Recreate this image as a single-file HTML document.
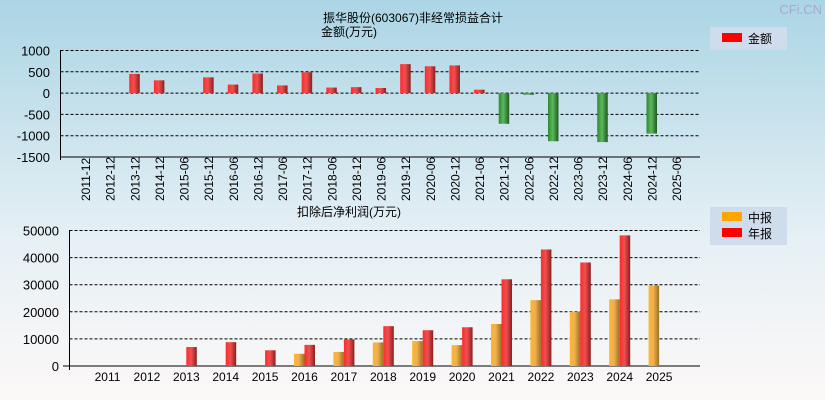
<!DOCTYPE html>
<html><head><meta charset="utf-8"><style>
body{margin:0;width:825px;height:400px;overflow:hidden;font-family:"Liberation Sans","Noto Sans CJK SC",sans-serif;}
svg{display:block}
</style></head><body>
<svg id="c" width="825" height="400" xmlns="http://www.w3.org/2000/svg" font-family="Liberation Sans, Noto Sans CJK SC, sans-serif">
<defs>
<linearGradient id="bg" x1="0" y1="0" x2="0" y2="1"><stop offset="0" stop-color="#abd5e5"/><stop offset="0.6" stop-color="#e6f0f5"/><stop offset="1" stop-color="#fcf8f8"/></linearGradient>
<linearGradient id="red" x1="0" y1="0" x2="1" y2="0"><stop offset="0" stop-color="#ff2a2a"/><stop offset="0.45" stop-color="#f05050"/><stop offset="1" stop-color="#8a2020"/></linearGradient>
<linearGradient id="grn" x1="0" y1="0" x2="1" y2="0"><stop offset="0" stop-color="#2e8a2e"/><stop offset="0.45" stop-color="#5cb85c"/><stop offset="1" stop-color="#1f5a1f"/></linearGradient>
<linearGradient id="org" x1="0" y1="0" x2="1" y2="0"><stop offset="0" stop-color="#ffb52e"/><stop offset="0.45" stop-color="#f0b050"/><stop offset="1" stop-color="#9a7020"/></linearGradient>
</defs>
<rect width="825" height="400" fill="url(#bg)"/>
<text x="822" y="14" text-anchor="end" font-size="13" fill="#aac">CFi.CN</text>
<text x="323" y="22" font-size="12">振华股份(603067)非经常损益合计</text>
<text x="321" y="36" font-size="12">金额(万元)</text>
<text x="297" y="216" font-size="12">扣除后净利润(万元)</text>
<g id="top"></g><g id="bot"></g>
<g>
<rect x="710" y="27" width="77" height="23" fill="#cfdcec"/>
<rect x="722" y="33" width="20" height="9" fill="#ff0000"/>
<text x="748" y="43" font-size="12">金额</text></g>
<g>
<rect x="710" y="207" width="77" height="38" fill="#cfdcec"/>
<rect x="722" y="212" width="20" height="9" fill="#ffa500"/>
<text x="748" y="222" font-size="12">中报</text>
<rect x="722" y="228" width="20" height="9" fill="#ff0000"/>
<text x="748" y="238" font-size="12">年报</text></g>
</svg>
<script>
const topCats=["2011-12","2012-12","2013-12","2014-12","2015-06","2015-12","2016-06","2016-12","2017-06","2017-12","2018-06","2018-12","2019-06","2019-12","2020-06","2020-12","2021-06","2021-12","2022-06","2022-12","2023-06","2023-12","2024-06","2024-12","2025-06"];
const topVals=[0,0,450,300,0,370,200,460,180,490,130,140,120,680,630,650,80,-720,-40,-1130,0,-1150,0,-950,0];
const topTicks=[1000,500,0,-500,-1000,-1500];
const botCats=["2011","2012","2013","2014","2015","2016","2017","2018","2019","2020","2021","2022","2023","2024","2025"];
const halfVals=[0,0,0,0,0,4500,5200,8700,9200,7700,15500,24300,20000,24600,29700];
const annualVals=[0,0,7000,8800,5800,7800,9800,14700,13200,14300,32000,43000,38200,48200,0];
const botTicks=[50000,40000,30000,20000,10000,0];
const NS="http://www.w3.org/2000/svg";
function mk(p,t,a){const e=document.createElementNS(NS,t);for(const k in a)e.setAttribute(k,a[k]);p.appendChild(e);return e;}
// top
const T=document.getElementById('top');
const ty=v=>50.5+(1000-v)*(106.5/2500);
const tx=i=>85+i*24.63;
topTicks.forEach(v=>{
 const l=mk(T,'line',{x1:60.5,x2:700,y1:ty(v),y2:ty(v),stroke:'#000','stroke-dasharray':'3,2'});
 
 
 const t=mk(T,'text',{x:50,y:ty(v)+5,'text-anchor':'end','font-size':13});
 t.textContent=v;
 
 
});
mk(T,'line',{x1:60.5,x2:60.5,y1:50,y2:160,stroke:'#000'});
mk(T,'line',{x1:60,x2:700,y1:157,y2:157,stroke:'#000'});
topCats.forEach((c,i)=>{
 const x=tx(i);
 const t=mk(T,'text',{transform:`translate(${x+5},201) rotate(-90)`,'font-size':12});
 t.textContent=c;
 
 
 const v=topVals[i];
 if(v!==0){
  const y0=ty(0),y1=ty(v);
  const r=mk(T,'rect',{x:x-5,y:Math.min(y0,y1),width:10.5,height:Math.abs(y1-y0),fill:v>0?'url(#red)':'url(#grn)'});
  
  
 }
});
// bottom
const B=document.getElementById('bot');
const by=v=>366-v*(135.5/50000);
const bx=i=>107.5+i*39.4;
botTicks.forEach(v=>{
 if(v>0){const l=mk(B,'line',{x1:69.5,x2:700,y1:by(v),y2:by(v),stroke:'#000','stroke-dasharray':'3,2'});
 
 }
 const t=mk(B,'text',{x:59,y:by(v)+5,'text-anchor':'end','font-size':13});
 t.textContent=v;
 
 
});
mk(B,'line',{x1:69.5,x2:69.5,y1:230,y2:370,stroke:'#000'});
mk(B,'line',{x1:63,x2:700,y1:366,y2:366,stroke:'#000'});
botCats.forEach((c,i)=>{
 const x=bx(i);
 const t=mk(B,'text',{x:x,y:381,'text-anchor':'middle','font-size':12});
 t.textContent=c;
 
 
 if(halfVals[i]>0){
  const r=mk(B,'rect',{x:x-10.5,y:by(halfVals[i]),width:10.5,height:366-by(halfVals[i]),fill:'url(#org)'});
  
  
 }
 if(annualVals[i]>0){
  const r=mk(B,'rect',{x:x,y:by(annualVals[i]),width:10.5,height:366-by(annualVals[i]),fill:'url(#red)'});
  
  
 }
});
</script>
</body></html>
